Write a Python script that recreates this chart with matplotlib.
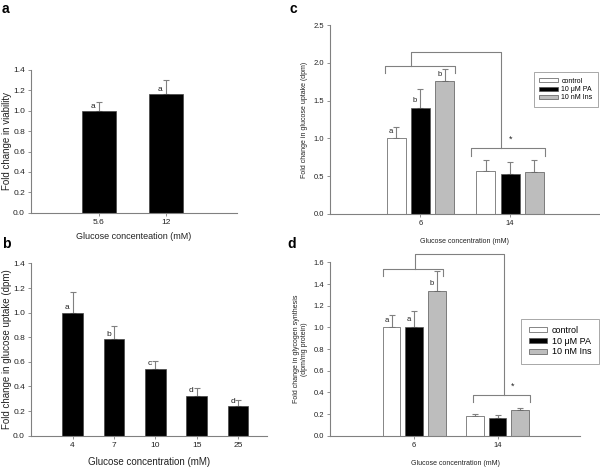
import numpy as np
import matplotlib
matplotlib.use('Agg')
import matplotlib.pyplot as plt

plt.rcParams['font.family'] = ['Liberation Sans', 'DejaVu Sans']

# panel a
a_cats = ['5.6', '12']
a_vals = [1.0, 1.16]
a_err = [0.08, 0.14]
a_letters = ['a', 'a']

# panel b
b_cats = ['4', '7', '10', '15', '25']
b_vals = [1.0, 0.785, 0.545, 0.325, 0.24]
b_err = [0.165, 0.11, 0.065, 0.065, 0.05]
b_letters = ['a', 'b', 'c', 'd', 'd']

# panels c, d
groups = ['6', '14']
treatments = ['control', '10 μM PA', '10 nM Ins']
c_vals = [[1.0, 0.565], [1.405, 0.535], [1.755, 0.555]]
c_err = [[0.145, 0.155], [0.255, 0.15], [0.16, 0.165]]
c_letters = ['a', 'b', 'b']
d_vals = [[1.0, 0.178], [1.006, 0.163], [1.338, 0.234]]
d_err = [[0.117, 0.025], [0.142, 0.025], [0.18, 0.026]]
d_letters = ['a', 'a', 'b']

# significance brackets: levels (group 6, group 14, connector top) and x spans
c_brk = [1.965, 0.87, 2.146]
c_span = [(-0.4, 0.38), (0.56, 1.39), (-0.11, 0.9)]
d_brk = [1.535, 0.378, 1.674]
d_span = [(-0.38, 0.35), (0.7, 1.39), (0.01, 1.078)]

GREY = '#808080'
TXT = '#222222'
colors = ['white', 'black', '#bdbdbd']


def style(ax, ymax, ystep, lsize=5.5):
    for s in ['top', 'right']:
        ax.spines[s].set_visible(False)
    for s in ['left', 'bottom']:
        ax.spines[s].set_color(GREY)
        ax.spines[s].set_linewidth(0.8)
    ax.set_ylim(0, ymax)
    ax.set_yticks(np.arange(0, ymax + 1e-9, ystep))
    ax.yaxis.set_major_formatter(matplotlib.ticker.FormatStrFormatter('%.1f'))
    ax.tick_params(colors=GREY, labelcolor=TXT, labelsize=lsize, length=2.5, width=0.6, pad=2)


def simple_bars(ax, cats, vals, err, letters, dx):
    x = np.arange(len(cats))
    ax.bar(x, vals, 0.5, color='black', edgecolor='#444444', linewidth=0.5, zorder=2)
    ax.errorbar(x, vals, yerr=[np.zeros(len(vals)), err], fmt='none', ecolor=GREY,
                elinewidth=0.8, capsize=2.5, capthick=0.8, zorder=1)
    for xi, v, l in zip(x, vals, letters):
        ax.text(xi - dx, v + 0.01, l, ha='center', va='bottom', fontsize=6, color=TXT)
    ax.set_xticks(x)
    ax.set_xticklabels(cats)


def group_bars(ax, vals, err, letters, brk, span, ymax, ystep, lfs, hlen):
    x = np.arange(len(groups))
    off = 0.27
    w = 0.21
    for i, t in enumerate(treatments):
        xs = x + (i - 1) * off
        ax.bar(xs, vals[i], w, color=colors[i], edgecolor='#555555', linewidth=0.5,
               label=t, zorder=2)
        ax.errorbar(xs, vals[i], yerr=[np.zeros(len(x)), err[i]], fmt='none', ecolor=GREY,
                    elinewidth=0.8, capsize=2, capthick=0.8, zorder=1)
        ax.text(xs[0] - 0.06, vals[i][0] + 0.02 * ymax, letters[i], ha='center', va='bottom',
                fontsize=5.5, color=TXT)
    style(ax, ymax, ystep)
    ax.set_xticks(x)
    ax.set_xticklabels(groups)
    ax.set_xlim(-1.01, 1.99)
    tick = 0.04 * ymax
    kw = dict(color=GREY, lw=0.8, clip_on=False)
    for (x0, x1), lvl in zip(span[:2], brk[:2]):
        ax.plot([x0, x0, x1, x1], [lvl - tick, lvl, lvl, lvl - tick], **kw)
    cx0, cx1 = span[2]
    ax.plot([cx0, cx0, cx1, cx1], [brk[0], brk[2], brk[2], brk[1]], **kw)
    ax.text(cx1 + 0.1, brk[1] + 0.05 * ymax, '*', ha='center', va='center', fontsize=6.5, color=TXT)
    leg = ax.legend(loc='center right', fontsize=lfs, frameon=True, fancybox=False,
                    handlelength=hlen, handleheight=0.55, borderpad=0.8, labelspacing=0.2,
                    handletextpad=0.5, borderaxespad=0)
    leg.get_frame().set_edgecolor(GREY)
    leg.get_frame().set_linewidth(0.6)
    return leg


fig = plt.figure(figsize=(6, 4.67), dpi=100)

ax_a = fig.add_axes([0.052, 0.544, 0.343, 0.307])
simple_bars(ax_a, a_cats, a_vals, a_err, a_letters, 0.09)
style(ax_a, 1.4, 0.2, 6)
ax_a.set_xlim(-1.01, 2.06)
ax_a.set_ylabel('Fold change in viability', fontsize=7, color=TXT, labelpad=1)
ax_a.set_xlabel('Glucose concenteation (mM)', fontsize=6.5, color=TXT, labelpad=4)

ax_b = fig.add_axes([0.052, 0.067, 0.393, 0.369])
simple_bars(ax_b, b_cats, b_vals, b_err, b_letters, 0.13)
style(ax_b, 1.4, 0.2, 6)
ax_b.set_xlim(-1.0, 4.7)
ax_b.set_ylabel('Fold change in glucose uptake (dpm)', fontsize=7, color=TXT, labelpad=1)
ax_b.set_xlabel('Glucose concentration (mM)', fontsize=7, color=TXT, labelpad=6)

ax_c = fig.add_axes([0.55, 0.542, 0.448, 0.404])
leg_c = group_bars(ax_c, c_vals, c_err, c_letters, c_brk, c_span, 2.5, 0.5, 5, 2.7)
leg_c.set_bbox_to_anchor((0.998, 0.659), transform=ax_c.transAxes)
ax_c.set_ylabel('Fold change in glucose uptake (dpm)', fontsize=5, color=TXT, labelpad=4)
ax_c.set_xlabel('Glucose concentration (mM)', fontsize=5, color=TXT, labelpad=8)

ax_d = fig.add_axes([0.55, 0.067, 0.417, 0.371])
leg_d = group_bars(ax_d, d_vals, d_err, d_letters, d_brk, d_span, 1.6, 0.2, 6.5, 2.1)
leg_d.set_bbox_to_anchor((1.074, 0.546), transform=ax_d.transAxes)
ax_d.set_ylabel('Fold change in glycogen synthesis\n(dpm/mg protein)', fontsize=5,
                color=TXT, labelpad=4, linespacing=1.1)
ax_d.set_xlabel('Glucose concentration (mM)', fontsize=5, color=TXT, labelpad=8)

for lbl, xx, yy in [('a', 0.003, 0.981), ('b', 0.003, 0.477), ('c', 0.483, 0.981), ('d', 0.479, 0.477)]:
    fig.text(xx, yy, lbl, fontsize=10, fontweight='bold', va='center', ha='left')

fig.savefig('out.png', dpi=100)
